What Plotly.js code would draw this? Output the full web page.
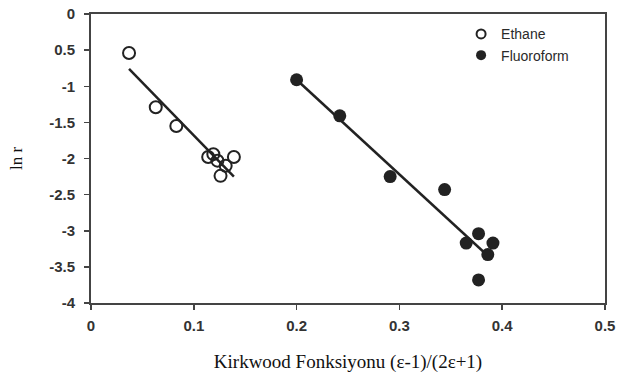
<!DOCTYPE html>
<html>
<head>
<meta charset="utf-8">
<script src="https://cdn.plot.ly/plotly-3.0.1.min.js"></script>
<style>html,body{margin:0;padding:0;background:#fff;}#chart{width:642px;height:385px;}</style>
</head>
<body>
<div id="chart"></div>
<script>
// Data
const ethaneX = [0.037, 0.063, 0.083, 0.114, 0.119, 0.123, 0.131, 0.139, 0.126];
const ethaneY = [-0.54, -1.29, -1.55, -1.98, -1.94, -2.03, -2.10, -1.98, -2.24];
const fluoroX = [0.200, 0.242, 0.291, 0.344, 0.377, 0.365, 0.391, 0.386, 0.377];
const fluoroY = [-0.91, -1.41, -2.25, -2.43, -3.04, -3.17, -3.17, -3.33, -3.68];
const ethaneFitX = [0.037, 0.139];
const ethaneFitY = [-0.76, -2.25];
const fluoroFitX = [0.200, 0.387];
const fluoroFitY = [-0.91, -3.36];
const seriesNames = ['Ethane', 'Fluoroform'];
const xTicks = [0, 0.1, 0.2, 0.3, 0.4, 0.5];
const xTickText = ['0', '0.1', '0.2', '0.3', '0.4', '0.5'];
const yTicks = [0, -0.5, -1, -1.5, -2, -2.5, -3, -3.5, -4];
const yTickText = ['0', '0.5', '-1', '-1.5', '-2', '-2.5', '-3', '-3.5', '-4'];

const ink = '#222';
const traces = [
  {x: ethaneFitX, y: ethaneFitY, mode: 'lines', line: {color: ink, width: 2.5}, showlegend: false, hoverinfo: 'skip'},
  {x: fluoroFitX, y: fluoroFitY, mode: 'lines', line: {color: ink, width: 2.5}, showlegend: false, hoverinfo: 'skip'},
  {x: ethaneX, y: ethaneY, mode: 'markers', name: seriesNames[0], showlegend: false,
   marker: {symbol: 'circle-open', size: 12, color: ink, line: {color: ink, width: 2}}},
  {x: fluoroX, y: fluoroY, mode: 'markers', name: seriesNames[1], showlegend: false,
   marker: {symbol: 'circle', size: 13, color: ink}},
  // legend entries (smaller symbols as in the reference)
  {x: [null], y: [null], mode: 'markers', name: seriesNames[0],
   marker: {symbol: 'circle-open', size: 9, color: ink, line: {color: ink, width: 2}}},
  {x: [null], y: [null], mode: 'markers', name: seriesNames[1],
   marker: {symbol: 'circle', size: 10, color: ink}}
];

const tickFont = {family: 'Liberation Sans, Arial, sans-serif', size: 15, color: '#333', weight: 700};
const layout = {
  width: 642, height: 385,
  margin: {l: 91, r: 37, t: 14, b: 82},
  paper_bgcolor: '#fff', plot_bgcolor: '#fff',
  showlegend: true,
  legend: {x: 0.72, y: 0.985, xanchor: 'left', yanchor: 'top', bgcolor: 'rgba(0,0,0,0)',
           font: {family: 'Liberation Sans, Arial, sans-serif', size: 14, color: '#2a2a2a'},
           tracegroupgap: 2, itemwidth: 30},
  xaxis: {
    range: [0, 0.5], tickvals: xTicks, ticktext: xTickText,
    showgrid: false, zeroline: false, showline: true, mirror: true,
    linecolor: '#444', linewidth: 2, ticks: 'outside', ticklen: 5, tickwidth: 1.5, tickcolor: '#444',
    tickfont: tickFont, ticklabelstandoff: 3,
    title: {text: 'Kirkwood Fonksiyonu (\u03b5-1)/(2\u03b5+1)', standoff: 22,
            font: {family: 'Liberation Serif, Times New Roman, serif', size: 19, color: '#111'}}
  },
  yaxis: {
    range: [-4, 0], tickvals: yTicks, ticktext: yTickText,
    showgrid: false, zeroline: false, showline: true, mirror: true,
    linecolor: '#444', linewidth: 2, ticks: 'outside', ticklen: 5, tickwidth: 1.5, tickcolor: '#444',
    tickfont: tickFont, ticklabelstandoff: 6,
    title: {text: 'ln r', standoff: 22,
            font: {family: 'Liberation Serif, Times New Roman, serif', size: 17, color: '#111'}}
  }
};
Plotly.newPlot('chart', traces, layout, {displayModeBar: false, staticPlot: true});
</script>
</body>
</html>
